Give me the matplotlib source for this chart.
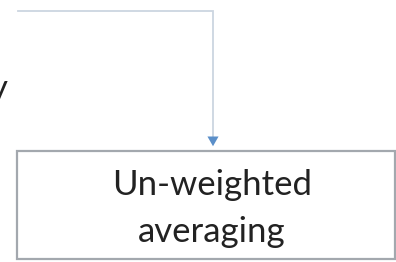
import matplotlib.pyplot as plt
from matplotlib.patches import Rectangle

box_lines = ["Un-weighted", "averaging"]
cut_text = "y"

W, H = 396, 262
fig = plt.figure(figsize=(W / 100, H / 100), dpi=100)
ax = fig.add_axes([0, 0, 1, 1])
ax.set_xlim(0, W)
ax.set_ylim(H, 0)
ax.axis("off")

# connector: across the top, then down into the box
ax.plot([18, 213, 213], [11, 11, 140], color="#ccd5e0", lw=1.3,
        solid_joinstyle="miter")
ax.annotate("", xy=(213, 149), xytext=(213, 138),
            arrowprops=dict(arrowstyle="-|>,head_width=0.4,head_length=0.7",
                            color="#5b8fc9", lw=0))

# target box
ax.add_patch(Rectangle((17, 151), 378, 108, facecolor="white",
                       edgecolor="#a3a8ae", lw=1.6))
ax.text(212, 195, box_lines[0], ha="center", va="baseline",
        fontsize=25, family="Lato", color="#222222")
ax.text(212, 242, box_lines[1], ha="center", va="baseline",
        fontsize=25, family="Lato", color="#222222")

# word clipped by the left edge, as in the source image
ax.text(8, 99, cut_text, ha="right", va="baseline",
        fontsize=25, family="Lato", color="#222222")

fig.savefig("out.png", dpi=100)
